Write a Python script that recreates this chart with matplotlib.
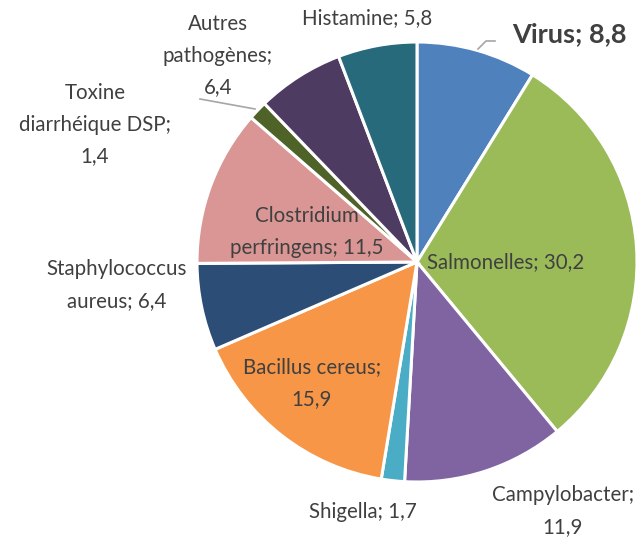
import matplotlib
matplotlib.use("Agg")
import matplotlib.pyplot as plt

labels = ["Virus", "Salmonelles", "Campylobacter", "Shigella", "Bacillus cereus",
          "Staphylococcus\naureus", "Clostridium\nperfringens", "Toxine\ndiarrhéique DSP",
          "Autres\npathogènes", "Histamine"]
values = [8.8, 30.2, 11.9, 1.7, 15.9, 6.4, 11.5, 1.4, 6.4, 5.8]
colors = ["#4F81BD", "#9BBB59", "#8064A2", "#4BACC6", "#F79646",
          "#2C4D75", "#D99694", "#4F6228", "#4D3B62", "#276A7C"]

plt.rcParams['font.family'] = ['Lato', 'DejaVu Sans']

fig = plt.figure(figsize=(6.42, 5.39), dpi=100)
# pie centre at (417, 262) px, radius 220 px
cx, cy, r = 417, 262, 220
ax = fig.add_axes([(cx - r) / 642, (539 - cy - r) / 539, 2 * r / 642, 2 * r / 539])
ax.pie(values, colors=colors, startangle=90, counterclock=False, radius=1,
       wedgeprops=dict(edgecolor="white", linewidth=2.2))
ax.set_xlim(-1, 1)
ax.set_ylim(-1, 1)
ax.set_aspect("equal")
ax.axis("off")


def fmt(v):
    return ("%.1f" % v).replace(".", ",")


def px(x, y):
    return (x - cx) / r, (cy - y) / r


# label centres in pixels
pos = {
    "Virus": (569, 34),
    "Salmonelles": (506, 262),
    "Campylobacter": (563, 511),
    "Shigella": (363, 512),
    "Bacillus cereus": (312, 383),
    "Staphylococcus\naureus": (117, 285),
    "Clostridium\nperfringens": (307, 232),
    "Toxine\ndiarrhéique DSP": (95, 125),
    "Autres\npathogènes": (218, 56),
    "Histamine": (367, 18),
}

for lab, v in zip(labels, values):
    x, y = px(*pos[lab])
    if lab in ("Campylobacter", "Bacillus cereus", "Autres\npathogènes",
               "Toxine\ndiarrhéique DSP"):
        txt = lab + ";\n" + fmt(v)
    else:
        txt = lab + "; " + fmt(v)
    if lab == "Virus":
        ax.text(x, y, txt, ha="center", va="center", fontsize=19.5, fontweight="bold",
                color="#404040", clip_on=False)
    else:
        ax.text(x, y, txt, ha="center", va="center", fontsize=14.8, color="#404040",
                linespacing=1.72, clip_on=False)

# leader lines
lx, ly = zip(px(478, 49), px(486, 41), px(495, 41))
ax.plot(lx, ly, color="#A6A6A6", lw=1.2, clip_on=False)
lx, ly = zip(px(200, 99), px(255, 109))
ax.plot(lx, ly, color="#A6A6A6", lw=1.2, clip_on=False)

plt.savefig("out.png", dpi=100)
